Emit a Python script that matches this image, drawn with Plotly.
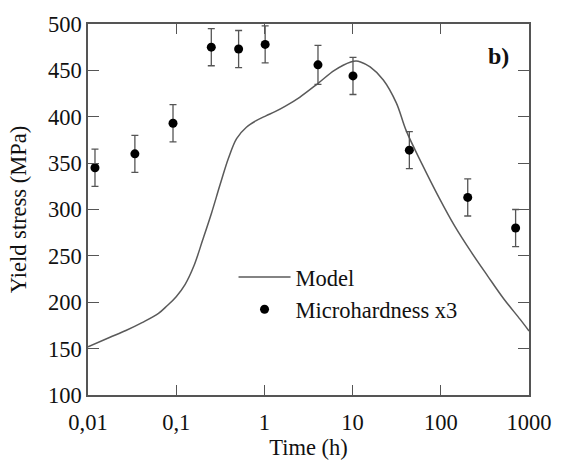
import plotly.graph_objects as go

# ---- data ----
model_time = [0.01, 0.0175, 0.0269, 0.041, 0.063, 0.0794, 0.1, 0.1259, 0.1585, 0.1995,
              0.2512, 0.316, 0.392, 0.484, 0.625, 0.807, 1.04, 1.32, 1.73, 2.51,
              4.06, 6.22, 9.53, 11.0, 12.3, 15.8, 22.3, 31.3, 40.5, 61.7,
              94.8, 144.5, 221.8, 338.8, 518.8, 794.3, 1000.0]
model_stress = [152, 162, 169.5, 178, 188, 196.5, 206, 219, 239, 267,
                296, 327.4, 355.5, 376.5, 388.7, 395.8, 401, 405.5, 411.5, 421,
                436, 450, 459, 460, 459, 453.7, 439.7, 415, 385, 348.4,
                313.4, 281.8, 254, 228.5, 203.5, 181.5, 169]

hard_time = [0.012, 0.034, 0.092, 0.25, 0.51, 1.02, 4.05, 10.1, 44, 202, 705]
hard_stress = [345, 360, 393, 475, 473, 478, 456, 444, 364, 313, 280]
hard_err = [20, 20, 20, 20, 20, 20, 21, 20, 20, 20, 20]

x_tickvals = [0.01, 0.1, 1, 10, 100, 1000]
x_ticktext = ["0,01", "0,1", "1", "10", "100", "1000"]
y_tickvals = [100, 150, 200, 250, 300, 350, 400, 450, 500]

FONT = "Liberation Serif"
FS = 22.5
INK = "#111111"
AX = "#555555"

fig = go.Figure()
fig.add_trace(go.Scatter(
    x=model_time, y=model_stress, mode="lines", name="Model",
    line=dict(color="#5a5a5a", width=1.5, shape="spline", smoothing=1.0),
    legendgroup="a"))
fig.add_trace(go.Scatter(
    x=hard_time, y=hard_stress, mode="markers", name="Microhardness x3",
    marker=dict(color="black", size=9),
    error_y=dict(type="data", array=hard_err, visible=True, color=AX,
                 thickness=1.3, width=3.5),
    legendgroup="b"))

fig.add_annotation(x=0.93, y=0.915, xref="paper", yref="paper", text="<b>b)</b>",
                   xanchor="center", yanchor="middle",
                   showarrow=False, font=dict(family=FONT, size=24, color=INK))

fig.update_layout(
    width=564, height=463,
    margin=dict(l=88, r=25, t=16, b=67),
    paper_bgcolor="white", plot_bgcolor="white",
    font=dict(family=FONT, size=FS, color=INK),
    showlegend=True,
    legend=dict(x=0.33, y=0.375, xanchor="left", yanchor="top",
                bgcolor="rgba(0,0,0,0)", font=dict(family=FONT, size=FS, color=INK),
                itemwidth=52, tracegroupgap=0),
)
fig.update_xaxes(
    type="log", range=[-2, 3], tickvals=x_tickvals, ticktext=x_ticktext,
    ticks="inside", ticklen=10, tickwidth=1.2, tickcolor=AX,
    showline=True, linecolor=AX, linewidth=1.5, mirror="ticks",
    showgrid=False, zeroline=False, ticklabelstandoff=6,
    tickfont=dict(family=FONT, size=FS, color=INK),
    title=dict(text="Time (h)", font=dict(family=FONT, size=FS, color=INK), standoff=0))
fig.update_yaxes(
    range=[100, 500], tickvals=y_tickvals,
    ticks="inside", ticklen=11, tickwidth=1.2, tickcolor=AX,
    showline=True, linecolor=AX, linewidth=1.5, mirror="ticks",
    showgrid=False, zeroline=False,
    tickfont=dict(family=FONT, size=FS, color=INK),
    title=dict(text="Yield stress (MPa)", font=dict(family=FONT, size=FS, color=INK), standoff=15))

fig.write_html("out.html")
